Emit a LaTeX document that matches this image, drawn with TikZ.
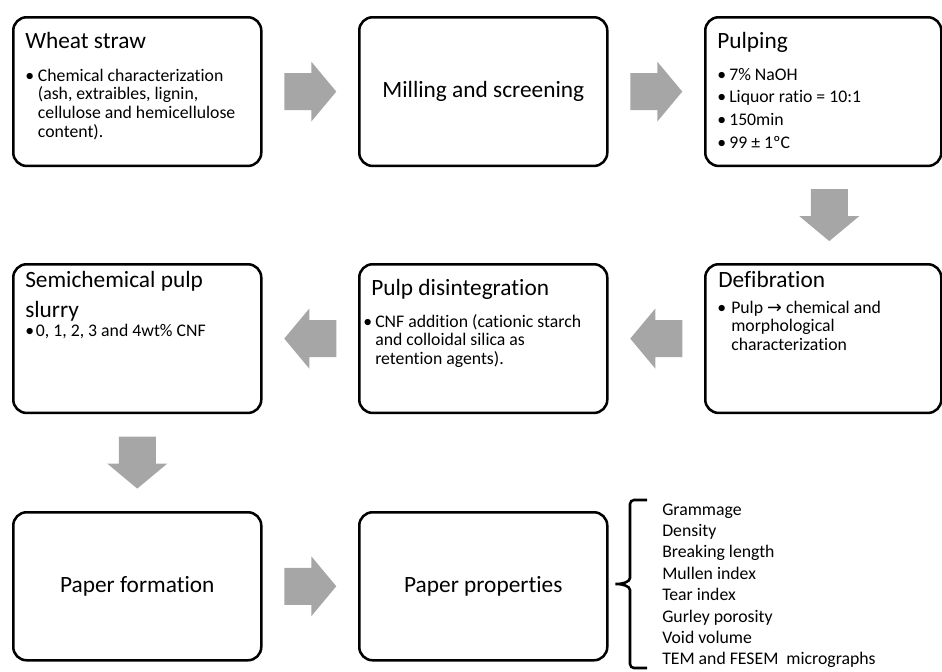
\documentclass[tikz,border=0pt]{standalone}
\usepackage{fontspec}
\setmainfont{Carlito}[Ligatures=NoCommon]
\newfontfamily\symfont{DejaVu Sans}
\usetikzlibrary{calc,positioning}

\definecolor{arrowgray}{HTML}{A6A6A6}
% bullet lists and titles, first baseline on top
\newcommand{\blist}[2][8pt]{\def\bul{\makebox[#1][l]{\kern-1.5pt\textbullet}}%
  \begin{tabular}[t]{@{}l@{}l@{}}#2\end{tabular}}
\newcommand{\ttl}[1]{\begin{tabular}[t]{@{}l@{}}#1\end{tabular}}

\tikzset{
  stepbox/.style={draw, line width=1.9pt, rounded corners=10pt, anchor=north west,
    minimum width=186pt, minimum height=111.5pt, inner sep=0pt},
  title/.style={anchor=base west, inner sep=0pt, font=\fontsize{17.5}{22.5}\selectfont},
  body/.style={anchor=base west, inner sep=0pt, font=\fontsize{13.3}{14.2}\selectfont},
  blockarrow/.pic={\fill[arrowgray] (-26,-18.5) -- (1,-18.5) -- (1,-30) -- (26,0)
    -- (1,30) -- (1,18.5) -- (-26,18.5) -- cycle;}
}

\begin{document}
\begin{tikzpicture}[x=0.75pt, y=-0.75pt]
  \useasboundingbox (0,0) rectangle (942,671);
  % boxes
  \node[stepbox] (wheat) at (12,16) {};
  \node[stepbox] (mill) at (358,16) {};
  \node[stepbox, minimum width=177pt] (pulping) at (704,16) {};
  \node[stepbox] (slurry) at (12,263) {};
  \node[stepbox] (pulpdis) at (358,263) {};
  \node[stepbox, minimum width=177pt] (defib) at (704,263) {};
  \node[stepbox, minimum height=111pt] (formation) at (12,511) {};
  \node[stepbox, minimum height=111pt] (props) at (358,511) {};

  % texts
  \node[title] (wheat-t) at ($(wheat.north west)+(13,32)$) {Wheat straw};
  \node[body] (wheat-l) at ($(wheat.north west)+(15,65)$) {\blist{\bul & Chemical characterization\\
    & (ash, extraibles, lignin,\\ & cellulose and hemicellulose\\ & content).}};
  \node[title, anchor=center] (mill-t) at (mill) {Milling and screening};
  \node[title] (pulping-t) at ($(pulping.north west)+(13,32)$) {Pulping};
  \node[body, font=\fontsize{13.3}{17}\selectfont] (pulping-l) at ($(pulping.north west)+(15,64)$)
    {\blist[7.5pt]{\bul & 7\% NaOH\\ \bul & Liquor ratio = 10:1\\ \bul & 150min\\ \bul & 99 ± 1ºC}};
  \node[title] (slurry-t) at ($(slurry.north west)+(13,24)$) {\ttl{Semichemical pulp\\ slurry}};
  \node[body] (slurry-l) at ($(slurry.north west)+(15,73)$) {\blist[6.5pt]{\bul & 0, 1, 2, 3 and 4wt\% CNF}};
  \node[title] (pulpdis-t) at ($(pulpdis.north west)+(13,32)$) {Pulp disintegration};
  \node[body] (pulpdis-l) at ($(pulpdis.north west)+(7,64)$) {\blist[7.5pt]{\bul & CNF addition (cationic starch\\
    & and colloidal silica as\\ & retention agents).}};
  \node[title] (defib-t) at ($(defib.north west)+(14,24)$) {Defibration};
  \node[body] (defib-l) at ($(defib.north west)+(15,50)$) {\blist[9pt]{\bul & Pulp {\symfont →} chemical and\\
    & morphological\\ & characterization}};
  \node[title, anchor=center] (formation-t) at (formation) {Paper formation};
  \node[title, anchor=center] (props-t) at (props) {Paper properties};

  % gray block arrows
  \pic at ($(wheat.east)!0.5!(mill.west)$) {blockarrow};
  \pic at ($(mill.east)!0.5!(pulping.west)$) {blockarrow};
  \pic[rotate=-90] at ($(pulping.south)!0.5!(defib.north)+(6,0)$) {blockarrow};
  \pic[rotate=180] at ($(defib.west)!0.5!(pulpdis.east)$) {blockarrow};
  \pic[rotate=180] at ($(pulpdis.west)!0.5!(slurry.east)$) {blockarrow};
  \pic[rotate=-90] at ($(slurry.south)!0.5!(formation.north)$) {blockarrow};
  \pic at ($(formation.east)!0.5!(props.west)$) {blockarrow};

  % brace and property list
  \draw[line width=1.9pt, rounded corners=3pt] (647,500) -- (630,500) -- (630,574)
    .. controls (630,582) and (622,584) .. (613,584) .. controls (622,584) and (630,586) .. (630,594)
    -- (630,668) -- (647,668);
  \foreach \t [count=\i] in {Grammage, Density, Breaking length, Mullen index, Tear index,
    Gurley porosity, Void volume, TEM and FESEM\hspace{3pt} micrographs}
    \node[body] (prop\i) at (662,{515+21.4*(\i-1)}) {\t};
\end{tikzpicture}
\end{document}
